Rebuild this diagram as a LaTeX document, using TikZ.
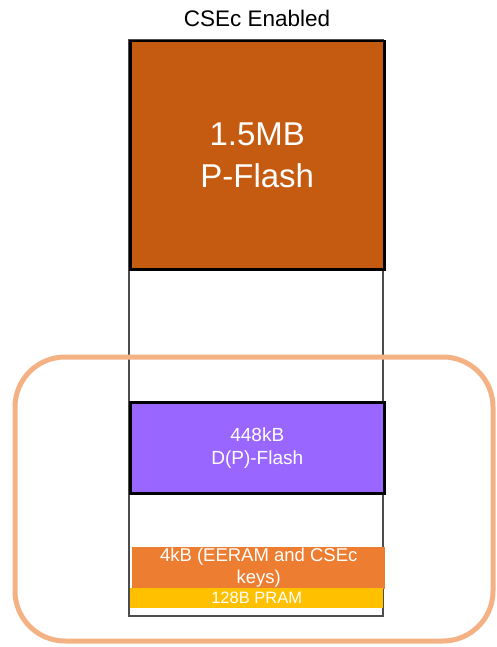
\documentclass[tikz,border=0pt]{standalone}
\usepackage{fontspec}
\setmainfont{Liberation Sans}
\definecolor{pflashcol}{HTML}{C55A11}
\definecolor{dflashcol}{HTML}{9966FF}
\definecolor{eeramcol}{HTML}{ED7D31}
\definecolor{pramcol}{HTML}{FFC000}
\definecolor{framecol}{HTML}{F4B183}
\tikzset{
  memblock/.style={draw=black, line width=2.5pt, anchor=north west, inner sep=0pt,
    minimum width=254pt, align=center, text=white},
  plainblock/.style={anchor=north west, inner sep=0pt, align=center, text=white}
}

\begin{document}
\begin{tikzpicture}[x=1pt,y=-1pt]
        \useasboundingbox (0,0) rectangle (496,647);
        %\label{cse_map}
        \node[font=\fontsize{22.5}{26}\selectfont] (title) at (257,18) {CSEc Enabled};
        \draw[black!70, line width=1.5pt] (129,40) rectangle (383,616);
        \node[memblock, fill=pflashcol, minimum height=228pt,
          font=\fontsize{33}{42}\selectfont] (pflash) at (129,40) {1.5MB\\P-Flash};
        \node[memblock, fill=dflashcol, minimum height=91pt,
          font=\fontsize{19}{23}\selectfont] (dflash) at (129,401) {448kB\\D(P)-Flash};
        \node[plainblock, fill=eeramcol, minimum width=253pt, minimum height=42pt,
          font=\fontsize{18.5}{22}\selectfont] (eeram) at (132,547) {4kB (EERAM and CSEc\\keys)};
        \node[plainblock, fill=pramcol, minimum width=253pt, minimum height=20pt,
          font=\fontsize{16.5}{18}\selectfont] (pram) at (130,588) {128B PRAM};
        \draw[framecol, line width=5pt, rounded corners=50pt] (15,357) rectangle (493,641);
\end{tikzpicture}
\end{document}
